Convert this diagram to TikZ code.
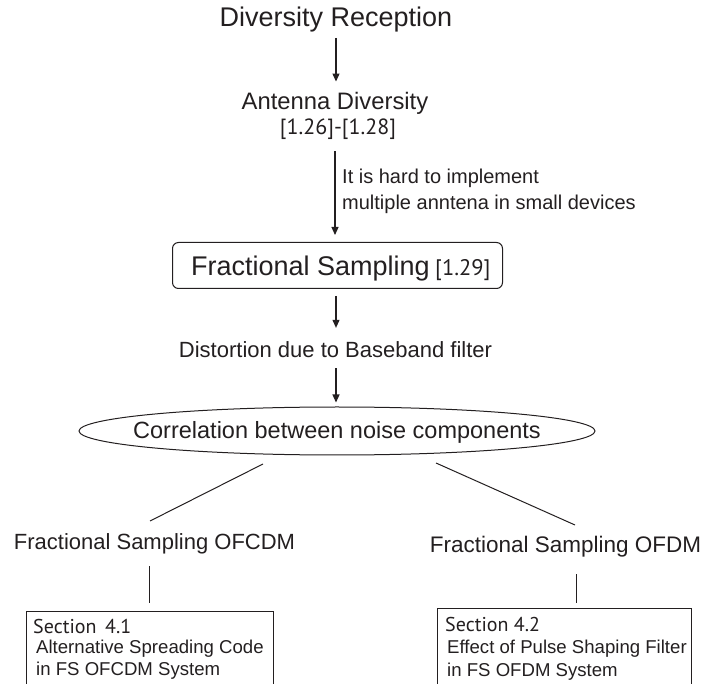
\documentclass[tikz,border=0pt]{standalone}
\usepackage{fontspec}
\setmainfont{Liberation Sans}
\newfontfamily\reffont{PT Sans}
\usetikzlibrary{arrows.meta,shapes.geometric,calc}
\definecolor{ink}{RGB}{35,31,32}
\newcommand{\fsz}[1]{\fontsize{#1}{#1}\selectfont}
\tikzset{
  lbl/.style={inner sep=0pt, anchor=base, text=ink},
  lblw/.style={inner sep=0pt, anchor=base west, text=ink},
  arr/.style={draw=ink, line width=1.1pt, -{Triangle[length=8pt,width=7pt]}},
  ln/.style={draw=ink, line width=1pt},
  frame/.style={draw=ink, line width=1pt, inner sep=0pt, anchor=north west},
}
\begin{document}
\begin{tikzpicture}[x=1pt, y=-1pt]
\useasboundingbox (0,0) rectangle (718,684);
\clip (0,0) rectangle (718,684);

% headings
\node[lbl, font=\fsz{27}] (title) at (336,27) {Diversity Reception};
\node[lbl, font=\fsz{23.8}] (antenna) at (335,110) {Antenna Diversity};
\node[lbl, font=\reffont\fsz{22}] (refs) at (338,135) {[1.26]-[1.28]};

% note beside the second arrow
\node[lblw, font=\fsz{20}] (note1) at (342,184) {It is hard to implement};
\node[lblw, font=\fsz{20}] (note2) at (342,210) {multiple anntena in small devices};

% fractional sampling box
\node[frame, rounded corners=6pt, minimum width=330pt, minimum height=46pt] (fsbox) at (172,242) {};
\node[lblw, font=\fsz{27}] (fstext) at (191,276) {Fractional Sampling};
\node[lblw, font=\reffont\fsz{22.5}] (fsref) at (435,276) {[1.29]};

\node[lbl, font=\fsz{22}] (dist) at (335.5,358) {Distortion due to Baseband filter};

% correlation ellipse
\node[draw=ink, line width=1pt, ellipse, inner sep=0pt, minimum width=516pt, minimum height=48pt] (ell) at (337,431) {};
\node[lbl, font=\fsz{23.5}] (corr) at (337,439) {Correlation between noise components};

% two branches
\node[lbl, font=\fsz{22}] (ofcdm) at (154.5,550) {Fractional Sampling OFCDM};
\node[lbl, font=\fsz{22.5}] (ofdm) at (565.5,552) {Fractional Sampling OFDM};

% section boxes (running off the lower edge)
\node[frame, minimum width=247pt, minimum height=90pt] (box1) at (26,611) {};
\node[lblw, font=\reffont\fsz{20}] (s1a) at (33,633) {Section\, 4.1};
\node[lblw, font=\fsz{18.6}] (s1b) at (36,653) {Alternative Spreading Code};
\node[lblw, font=\fsz{18.6}] (s1c) at (36,675) {in FS OFCDM System};

\node[frame, minimum width=254pt, minimum height=90pt] (box2) at (437,608) {};
\node[lblw, font=\reffont\fsz{20}] (s2a) at (445,631) {Section 4.2};
\node[lblw, font=\fsz{18.6}] (s2b) at (447,653) {Effect of Pulse Shaping Filter};
\node[lblw, font=\fsz{18.6}] (s2c) at (447,676) {in FS OFDM System};

% connector end points
\coordinate (la) at (263,464);
\coordinate (lb) at (150,521);
\coordinate (ra) at (436,463);
\coordinate (rb) at (575,525);
\coordinate (va) at (149,566);
\coordinate (vb) at (576,574);

% arrows
\draw[arr, shorten <=5pt, shorten >=11pt] (title.south) -- (title.south |- antenna.north);
\draw[arr, shorten <=11pt, shorten >=7pt] ([xshift=-3pt]refs.south) -- ([xshift=-3pt]refs.south |- fsbox.north);
\draw[arr, shorten <=7pt, shorten >=14pt] (fsbox.south -| title.south) -- (title.south |- dist.north);
\draw[arr, shorten <=10pt, shorten >=4pt] (dist.south -| title.south) -- (title.south |- ell.north);

% plain lines
\draw[ln] (la) -- (lb);
\draw[ln] (ra) -- (rb);
\draw[ln, shorten >=8pt] (va) -- (va |- box1.north);
\draw[ln, shorten >=5pt] (vb) -- (vb |- box2.north);
\end{tikzpicture}
\end{document}
